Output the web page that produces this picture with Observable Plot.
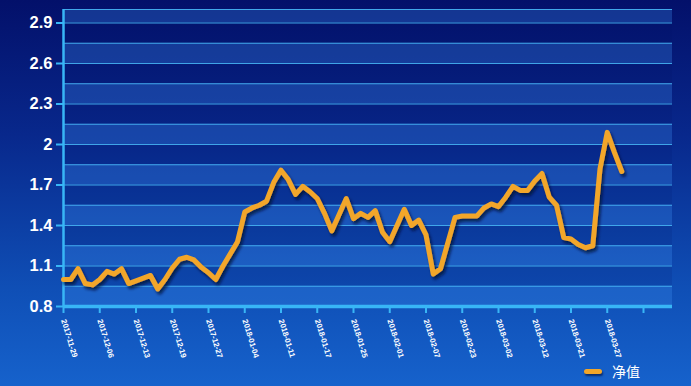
<!DOCTYPE html>
<html>
<head>
<meta charset="utf-8">
<script src="https://cdn.jsdelivr.net/npm/d3@7"></script>
<script src="https://cdn.jsdelivr.net/npm/@observablehq/plot@0.6"></script>
<style>
  html, body { margin: 0; padding: 0; }
  body {
    width: 691px; height: 386px; overflow: hidden;
    background: linear-gradient(to bottom, #03106a 0%, #08288c 35%, #0f4fb6 75%, #1662cc 100%);
    font-family: "Liberation Sans", Arial, sans-serif;
  }
  #chart svg { display: block; background: transparent; }
  #legend { position: relative; height: 26px; }
  #legend .item { position: absolute; left: 584px; top: 3px; display: flex; align-items: center; }
  #legend .sw { width: 18px; height: 5px; border-radius: 3px; background: #f2a62a; box-shadow: 1px 2px 2px rgba(0,10,50,0.6); }
  #legend .lab { margin-left: 10px; color: #ffffff; font-size: 14px; font-family: "Noto Sans CJK SC", sans-serif; line-height: 16px; }
</style>
</head>
<body>
<div id="chart"></div>
<div id="legend"><div class="item"><div class="sw"></div><div class="lab">净值</div></div></div>
<script>
// Net value series (one value per trading day, index 0..77)
const netValue = [
  1.00, 1.00, 1.08, 0.97, 0.96, 1.00, 1.06, 1.04, 1.08, 0.97,
  0.99, 1.01, 1.03, 0.93, 1.00, 1.085, 1.15, 1.165, 1.145, 1.09,
  1.05, 1.00, 1.10, 1.19, 1.28, 1.50, 1.53, 1.55, 1.58, 1.72,
  1.81, 1.74, 1.63, 1.69, 1.65, 1.60, 1.49, 1.36, 1.48, 1.60,
  1.45, 1.49, 1.46, 1.51, 1.35, 1.28, 1.40, 1.52, 1.40, 1.44,
  1.33, 1.04, 1.08, 1.27, 1.46, 1.47, 1.47, 1.47, 1.53, 1.56,
  1.54, 1.61, 1.69, 1.66, 1.66, 1.73, 1.785, 1.61, 1.55, 1.31,
  1.30, 1.26, 1.235, 1.25, 1.82, 2.09, 1.94, 1.80
];
// X tick labels (every 5th trading day), last tick unlabeled
const xTickLabels = [
  "2017-11-29", "2017-12-06", "2017-12-13", "2017-12-19", "2017-12-27",
  "2018-01-04", "2018-01-11", "2018-01-17", "2018-01-25", "2018-02-01",
  "2018-02-07", "2018-02-23", "2018-03-02", "2018-03-12", "2018-03-21",
  "2018-03-27", ""
];
const xTickStep = 5;
const yTicks = [0.8, 1.1, 1.4, 1.7, 2, 2.3, 2.6, 2.9];
const yGrid = [0.8, 0.95, 1.1, 1.25, 1.4, 1.55, 1.7, 1.85, 2, 2.15, 2.3, 2.45, 2.6, 2.75, 2.9, 3.0];
const lightBands = [[0.8, 0.95], [1.1, 1.25], [1.4, 1.55], [1.7, 1.85], [2.0, 2.15], [2.3, 2.45], [2.6, 2.75], [2.9, 3.0]];
const darkBands = [[0.95, 1.1], [1.25, 1.4], [1.55, 1.7], [1.85, 2.0], [2.15, 2.3], [2.45, 2.6], [2.75, 2.9]];
const xDomain = [0, 84];
const yDomain = [0.8, 3.0];

const data = netValue.map((v, i) => ({i, v}));
const xTicks = xTickLabels.map((_, k) => k * xTickStep);
const labelOf = new Map(xTicks.map((t, k) => [t, xTickLabels[k]]));

const cyan = "#38b6f6";
const plot = Plot.plot({
  width: 691,
  height: 360,
  marginLeft: 63,
  marginRight: 19,
  marginTop: 9,
  marginBottom: 54,
  style: {background: "transparent", color: "#ffffff", fontFamily: "'Liberation Sans', Arial, sans-serif"},
  x: {domain: xDomain, axis: null},
  y: {domain: yDomain, axis: null},
  marks: [
    Plot.rect(lightBands, {x1: xDomain[0], x2: xDomain[1], y1: d => d[0], y2: d => d[1], fill: "#3f92f6", fillOpacity: 0.28}),
    Plot.rect(darkBands, {x1: xDomain[0], x2: xDomain[1], y1: d => d[0], y2: d => d[1], fill: "#001060", fillOpacity: 0.12}),
    Plot.ruleY(yGrid, {stroke: "#46b4f4", strokeWidth: 1.2, strokeOpacity: 0.9}),
    Plot.axisY(yTicks, {
      label: null,
      tickSize: 7, tickPadding: 4, stroke: cyan, strokeWidth: 2,
      fontSize: 16.5, fontWeight: "bold", fill: "#ffffff",
      tickFormat: d => String(d)
    }),
    Plot.axisX(xTicks, {
      label: null,
      tickSize: 7, tickPadding: 6, tickRotate: 73, stroke: cyan, strokeWidth: 2,
      fontSize: 7.8, fontWeight: "bold", fill: "#ffffff",
      tickFormat: d => labelOf.get(d)
    }),
    Plot.ruleX([xDomain[0]], {stroke: cyan, strokeWidth: 2.5}),
    Plot.ruleY([yDomain[0]], {stroke: cyan, strokeWidth: 3.5}),
    Plot.line(data, {x: "i", y: "v", stroke: "#f2a62a", strokeWidth: 5, strokeLinejoin: "round", strokeLinecap: "round"})
  ]
});

// drop shadow under the line
const ns = "http://www.w3.org/2000/svg";
const defs = document.createElementNS(ns, "defs");
defs.innerHTML = '<filter id="lineShadow" x="-10%" y="-10%" width="130%" height="140%"><feDropShadow dx="2" dy="3" stdDeviation="1.6" flood-color="#000a30" flood-opacity="0.75"/></filter>';
plot.insertBefore(defs, plot.firstChild);
const lineG = plot.querySelector('g[aria-label="line"]');
if (lineG) lineG.setAttribute("filter", "url(#lineShadow)");

document.getElementById("chart").appendChild(plot);
</script>
</body>
</html>
